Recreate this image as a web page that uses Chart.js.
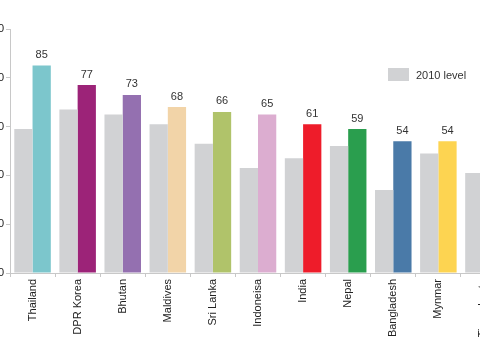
<!DOCTYPE html>
<html>
<head>
<meta charset="utf-8">
<script src="https://cdn.jsdelivr.net/npm/chart.js@4"></script>
<style>
  html, body { margin: 0; padding: 0; width: 480px; height: 360px; overflow: hidden; background: #fff; }
  #wrap { position: absolute; left: -40px; top: 0; }
  #legend { position: absolute; left: 388px; top: 68px; display: flex; align-items: center;
            font-family: "Liberation Sans", Arial, sans-serif; font-size: 11px; color: #333; }
  #legend .box { width: 21px; height: 13px; background: #d1d2d4; margin-right: 7px; }
</style>
</head>
<body>
<div id="wrap"><canvas id="c" width="546" height="360"></canvas></div>
<div id="legend"><span class="box"></span><span>2010 level</span></div>
<script>
const categories = ["Thailand", "DPR Korea", "Bhutan", "Maldives", "Sri Lanka", "Indoneisa", "India", "Nepal", "Bangladesh", "Mynmar", "Timor-Leste"];
const level2010 = [59, 67, 65, 61, 53, 43, 47, 52, 34, 49, 41];
const currentLevel = [85, 77, 73, 68, 66, 65, 61, 59, 54, 54, null];
const barColors = ["#7cc6cc", "#9c2378", "#9470b0", "#f2d4a8", "#b0c36a", "#dcadd0", "#ee1c2a", "#2a9e4e", "#4a7aa8", "#fdd451", "#cccccc"];
const yTicks = [0, 20, 40, 60, 80, 100];

const FONT = "'Liberation Sans', Arial, sans-serif";

const valueLabels = {
  id: 'valueLabels',
  afterDatasetsDraw(chart) {
    const ctx = chart.ctx;
    const meta = chart.getDatasetMeta(1);
    ctx.save();
    ctx.font = "11px " + FONT;
    ctx.fillStyle = "#333";
    ctx.textAlign = "center";
    ctx.textBaseline = "bottom";
    meta.data.forEach((bar, i) => {
      const v = currentLevel[i];
      if (v === null || v === undefined) return;
      ctx.fillText(String(v), bar.x, bar.y - 5);
    });
    ctx.restore();
  }
};

new Chart(document.getElementById('c'), {
  type: 'bar',
  data: {
    labels: categories,
    datasets: [
      { label: '2010 level', data: level2010, backgroundColor: '#d1d2d4',
        categoryPercentage: 0.81, barPercentage: 1.0 },
      { label: 'Current level', data: currentLevel, backgroundColor: barColors,
        categoryPercentage: 0.81, barPercentage: 1.0 }
    ]
  },
  options: {
    responsive: false,
    animation: false,
    layout: { padding: { top: 29, right: 0, left: 0, bottom: 0 } },
    plugins: { legend: { display: false }, tooltip: { enabled: false } },
    scales: {
      x: {
        afterFit(scale) { scale.height = 87; },
        border: { color: '#c8c8c8', width: 1 },
        grid: { drawOnChartArea: false, drawTicks: true, tickLength: 4, color: '#c8c8c8', offset: true },
        ticks: { autoSkip: false, minRotation: 90, maxRotation: 90, padding: 2,
                 color: '#222', font: { family: FONT, size: 11 } }
      },
      y: {
        min: 0, max: 100,
        afterFit(scale) { scale.width = 50; },
        afterBuildTicks(scale) { scale.ticks = yTicks.map(v => ({ value: v })); },
        border: { color: '#c8c8c8', width: 1 },
        grid: { drawOnChartArea: false, drawTicks: true, tickLength: 4, color: '#c8c8c8' },
        ticks: { padding: 2, color: '#222', font: { family: FONT, size: 11 } }
      }
    }
  },
  plugins: [valueLabels]
});
</script>
</body>
</html>
